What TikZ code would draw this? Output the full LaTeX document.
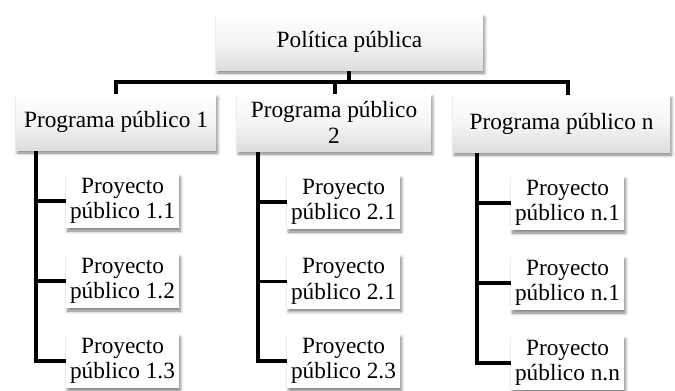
\documentclass[tikz,border=0pt]{standalone}
\usepackage{fontspec}
\setmainfont{Liberation Serif}
\usetikzlibrary{shadows.blur,backgrounds}
\begin{document}
\begin{tikzpicture}[x=1pt,y=-1pt,
  box/.style={draw=none, inner sep=0pt, align=center,
    font=\fontsize{23.3}{25.5}\selectfont,
    blur shadow={shadow xshift=1.5pt, shadow yshift=-3pt, shadow blur radius=3pt, shadow opacity=50}},
  bigbox/.style={box, top color=white, bottom color=black!13, middle color=white!96!black},
  projbox/.style={box, fill=white, minimum width=113pt, minimum height=54pt},
  conn/.style={draw=black, line width=3.2pt}]
\useasboundingbox (0,0) rectangle (675,391);

\node[bigbox, minimum width=267pt, minimum height=56pt] (top) at (349.5,42) {Política pública};
\node[bigbox, minimum width=200pt, minimum height=56pt] (p1) at (116,122) {Programa público 1};
\node[bigbox, minimum width=194pt, minimum height=57pt] (p2) at (334,122.5) {Programa público\\2};
\node[bigbox, minimum width=217pt, minimum height=57pt] (pn) at (561.5,123.5) {Programa público n};

\node[projbox] (a1) at (122.5,201) {Proyecto\\público 1.1};
\node[projbox] (a2) at (122.5,281) {Proyecto\\público 1.2};
\node[projbox] (a3) at (122.5,361) {Proyecto\\público 1.3};
\node[projbox] (b1) at (343.5,202) {Proyecto\\público 2.1};
\node[projbox] (b2) at (343.5,281.5) {Proyecto\\público 2.1};
\node[projbox] (b3) at (343.5,361) {Proyecto\\público 2.3};
\node[projbox] (c1) at (567.5,203) {Proyecto\\público n.1};
\node[projbox] (c2) at (567.5,283) {Proyecto\\público n.1};
\node[projbox] (c3) at (567.5,363) {Proyecto\\público n.n};

\coordinate (jt) at (349,82);
\coordinate (j1) at (116,82);
\coordinate (j2) at (335,82);
\coordinate (jn) at (568,82);
\coordinate (v1) at (36,0);
\coordinate (v2) at (258,0);
\coordinate (vn) at (477,0);

\begin{pgfonlayer}{background}
\draw[conn] (top.south -| jt) -- (jt);
\draw[conn, line cap=rect] (j1) -- (jn);
\draw[conn] (j1) -- (j1 |- p1.north);
\draw[conn] (j2) -- (j2 |- p2.north);
\draw[conn] (jn) -- (jn |- pn.north);
\draw[conn] (v1 |- p1.south) -- (v1 |- a3.west) -- (a3.west);
\draw[conn] (v1 |- a1.west) -- (a1.west);
\draw[conn] (v1 |- a2.west) -- (a2.west);
\draw[conn] (v2 |- p2.south) -- (v2 |- b3.west) -- (b3.west);
\draw[conn] (v2 |- b1.west) -- (b1.west);
\draw[conn] (v2 |- b2.west) -- (b2.west);
\draw[conn] (vn |- pn.south) -- (vn |- c3.west) -- (c3.west);
\draw[conn] (vn |- c1.west) -- (c1.west);
\draw[conn] (vn |- c2.west) -- (c2.west);
\end{pgfonlayer}
\end{tikzpicture}
\end{document}
